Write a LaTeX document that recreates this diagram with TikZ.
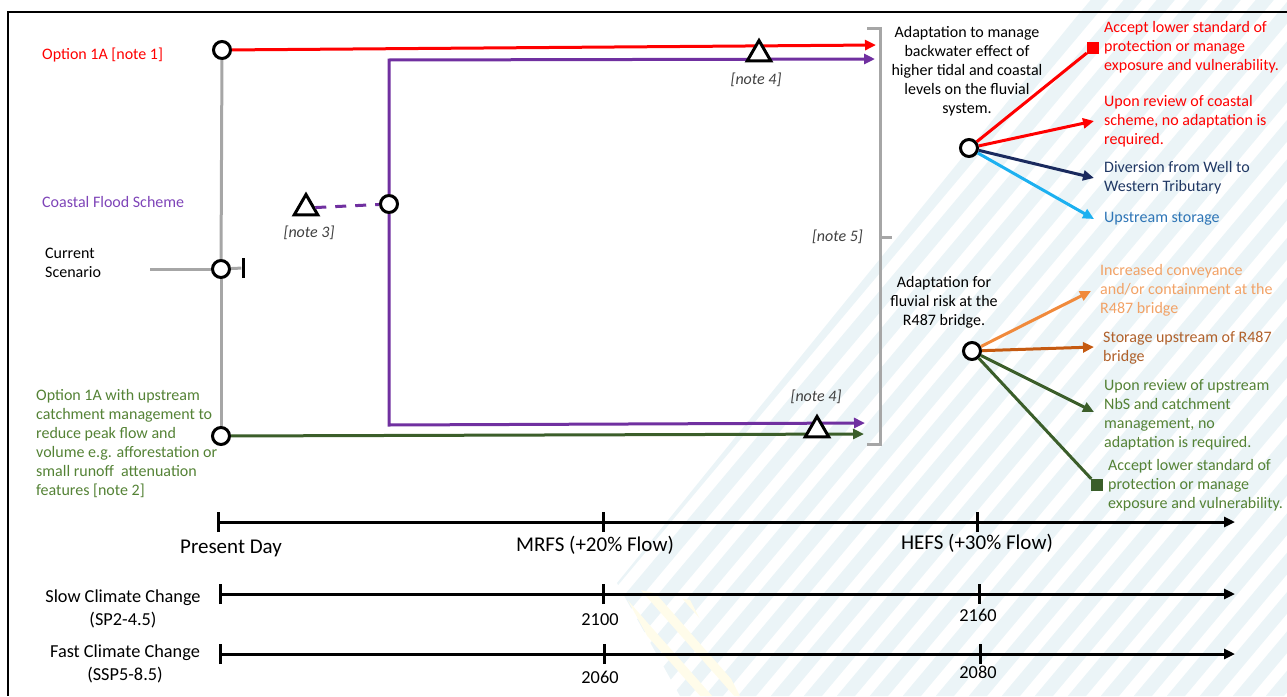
\documentclass[tikz,border=0pt]{standalone}
\usepackage{fontspec}
\setmainfont{Carlito}
\usetikzlibrary{arrows.meta,shapes.geometric}
\definecolor{cred}{HTML}{FF0000}
\definecolor{cpurple}{HTML}{7030A0}
\definecolor{cpurpletxt}{HTML}{7E44B8}
\definecolor{cgray}{HTML}{A6A6A6}
\definecolor{cnavy}{HTML}{1A2A5E}
\definecolor{cnavytxt}{HTML}{203864}
\definecolor{clblue}{HTML}{1CB0F0}
\definecolor{clbluetxt}{HTML}{2E75B6}
\definecolor{corange}{HTML}{F08A3C}
\definecolor{corangetxt}{HTML}{F2A266}
\definecolor{cbrown}{HTML}{C55A11}
\definecolor{cbrowntxt}{HTML}{B0602A}
\definecolor{cdgreen}{HTML}{3B5E2A}
\definecolor{cgreentxt}{HTML}{548235}
\definecolor{cstripe}{HTML}{EBF4F7}
\definecolor{cystripe}{HTML}{FFFCEA}
\definecolor{cnote}{HTML}{404040}
\begin{document}
\begin{tikzpicture}[x=1pt,y=-1pt,
  ln/.style={line width=3pt},
  arr/.style={ln,-{Triangle[length=11pt,width=10pt]}},
  gline/.style={ln,cgray},
  circ/.style={circle,draw=black,line width=3pt,fill=white,minimum size=17pt,inner sep=0pt},
  tri/.style={regular polygon,regular polygon sides=3,draw=black,line width=3pt,fill=white,minimum size=27pt,inner sep=0pt},
  sq/.style={rectangle,minimum size=12pt,inner sep=0pt},
  txt/.style={font=\fontsize{16}{19}\selectfont,inner sep=0pt},
  lbl/.style={txt,anchor=west,align=left},
  note/.style={font=\fontsize{16}{19}\selectfont\itshape,text=cnote,inner sep=0pt},
  tl/.style={font=\fontsize{21}{24}\selectfont,inner sep=0pt},
  tls/.style={font=\fontsize{18.3}{23}\selectfont,inner sep=0pt,align=center},
  stripe/.style={line width=14pt,cstripe},
  ystripe/.style={line width=9pt,cystripe}
]
\useasboundingbox (0,0) rectangle (1287,696);
% watermark
\begin{scope}
\clip (1090,0) -- (1287,0) -- (1287,696) -- (680,696) -- (617,583) -- cycle;
\foreach \k in {0,...,30} { \draw[stripe] ({380+\k*33},740) -- ++(640,-763); }
\end{scope}
\begin{scope}
\clip (620,586) -- (680,696) -- (740,696) -- (690,600) -- cycle;
\foreach \k in {0,...,2} { \draw[ystripe] ({595+\k*34},570) -- ++(150,170); }
\end{scope}
% frame
\draw[line width=2pt] (1287,12) -- (8,12) -- (8,696);

% main nodes
\node[circ] (o1) at (222,50) {};
\node[circ] (cur) at (221,269) {};
\node[circ] (o2) at (221,436) {};
\node[circ] (cfs) at (389,204) {};
\node[fill=black,minimum width=3pt,minimum height=20pt,inner sep=0pt] (bar) at (243,268) {};
\coordinate (curL) at (150,269);

% gray spine
\draw[gline] (o1) -- (cur);
\draw[gline] (cur) -- (o2);
\draw[gline] (curL) -- (cur);
\draw[gline] (cur) -- (bar);

% red
\coordinate (redend) at (876,45);
\draw[arr,cred] (o1) -- (redend);
% purple
\coordinate (pt) at (389,60);
\coordinate (ptend) at (875,59);
\coordinate (pb) at (389,425);
\coordinate (pbend) at (865,423);
\draw[arr,cpurple] (cfs) -- (pt) -- (ptend);
\draw[arr,cpurple] (cfs) -- (pb) -- (pbend);
% green
\coordinate (gend) at (864,434);
\draw[arr,cdgreen] (o2) -- (gend);

% triangles
\node[tri] (tri3) at (306,208) {};
\draw[ln,cpurple,dash pattern=on 11pt off 9pt] (tri3) -- (cfs);
\node[tri] (tri4a) at (759,54) {};
\node[tri] (tri4b) at (817,430) {};

% notes
\node[note] (n3) at (309,233) {[note 3]};
\node[note] (n4a) at (756,80) {[note 4]};
\node[note] (n4b) at (816,397) {[note 4]};
\node[note,anchor=east] (n5) at (863,237) {[note 5]};

% bracket
\coordinate (bt1) at (867,28);
\coordinate (bt2) at (880,28);
\coordinate (bb2) at (880,444);
\coordinate (bb1) at (867,444);
\coordinate (bm1) at (880,237);
\coordinate (bm2) at (892,237);
\draw[gline] (bt1) -- (bt2) -- (bb2) -- (bb1);
\draw[gline] (bm1) -- (bm2);

% left labels
\node[lbl,text=cred] (l1) at (42,55) {Option 1A [note 1]};
\node[lbl,text=cpurpletxt] (l2) at (42,202) {Coastal Flood Scheme};
\node[lbl] (l3) at (45,262.5) {Current\\Scenario};
\node[lbl,text=cgreentxt] (l4) at (36,443.5) {Option 1A with upstream\\catchment management to\\reduce peak flow and\\volume e.g. afforestation or\\small runoff\ \ attenuation\\features [note 2]};

% right upper
\node[txt,align=center] (a1) at (967,71) {Adaptation to manage\\backwater effect of\\higher tidal and coastal\\levels on the fluvial\\system.};
\node[circ] (c1) at (969,148) {};
\node[sq,fill=cred] (sq1) at (1093,48) {};
\coordinate (r2) at (1094,121);
\coordinate (r3) at (1094,178);
\coordinate (r4) at (1094,219);
\draw[ln,cred] (c1) -- (sq1);
\draw[arr,cred] (c1) -- (r2);
\draw[arr,cnavy] (c1) -- (r3);
\draw[arr,clblue] (c1) -- (r4);
\node[lbl,text=cred] (t1) at (1104,47) {Accept lower standard of\\protection or manage\\exposure and vulnerability.};
\node[lbl,text=cred] (t2) at (1104,121) {Upon review of coastal\\scheme, no adaptation is\\required.};
\node[lbl,text=cnavytxt] (t3) at (1104,177.5) {Diversion from Well to\\Western Tributary};
\node[lbl,text=clbluetxt] (t4) at (1104,219) {Upstream storage};

% right lower
\node[txt,align=center] (a2) at (944,302) {Adaptation for\\fluvial risk at the\\R487 bridge.};
\node[circ] (c2) at (972,351) {};
\coordinate (s1) at (1091,291);
\coordinate (s2) at (1094,347);
\coordinate (s3) at (1094,412);
\node[sq,fill=cdgreen] (sq2) at (1097,485) {};
\draw[arr,corange] (c2) -- (s1);
\draw[arr,cbrown] (c2) -- (s2);
\draw[arr,cdgreen] (c2) -- (s3);
\draw[ln,cdgreen] (c2) -- (sq2);
\node[lbl,text=corangetxt] (u1) at (1100,290.5) {Increased conveyance\\and/or containment at the\\R487 bridge};
\node[lbl,text=cbrowntxt] (u2) at (1103,347.5) {Storage upstream of R487\\bridge};
\node[lbl,text=cgreentxt] (u3) at (1104,414.5) {Upon review of upstream\\NbS and catchment\\management, no\\adaptation is required.};
\node[lbl,text=cgreentxt] (u4) at (1108,485) {Accept lower standard of\\protection or manage\\exposure and vulnerability.};

% timelines
\coordinate (ta0) at (218,522); \coordinate (ta1) at (603,522); \coordinate (ta2) at (977,522); \coordinate (taE) at (1235,522);
\coordinate (tb0) at (220,594); \coordinate (tb1) at (603,594); \coordinate (tb2) at (979,594); \coordinate (tbE) at (1235,594);
\coordinate (tc0) at (220,654); \coordinate (tc1) at (604,654); \coordinate (tc2) at (980,654); \coordinate (tcE) at (1235,654);
\draw[arr,black] (ta0) -- (taE);
\draw[arr,black] (tb0) -- (tbE);
\draw[arr,black] (tc0) -- (tcE);
\foreach \p in {ta0,ta1,ta2,tb0,tb1,tb2,tc0,tc1,tc2} { \draw[ln] ([yshift=-10pt]\p) -- ([yshift=10pt]\p); }
\node[tl] (p0) at (231,548) {Present Day};
\node[tl] (p1) at (595,545) {MRFS (+20\% Flow)};
\node[tl] (p2) at (977,543) {HEFS (+30\% Flow)};
\node[tls] (sl) at (123,608.5) {Slow Climate Change\\(SP2-4.5)};
\node[tls] (fa) at (125,663.5) {Fast Climate Change\\(SSP5-8.5)};
\node[tls] (y1) at (600,620) {2100};
\node[tls] (y2) at (978,615) {2160};
\node[tls] (y3) at (600,677) {2060};
\node[tls] (y4) at (978,672) {2080};
\end{tikzpicture}
\end{document}
